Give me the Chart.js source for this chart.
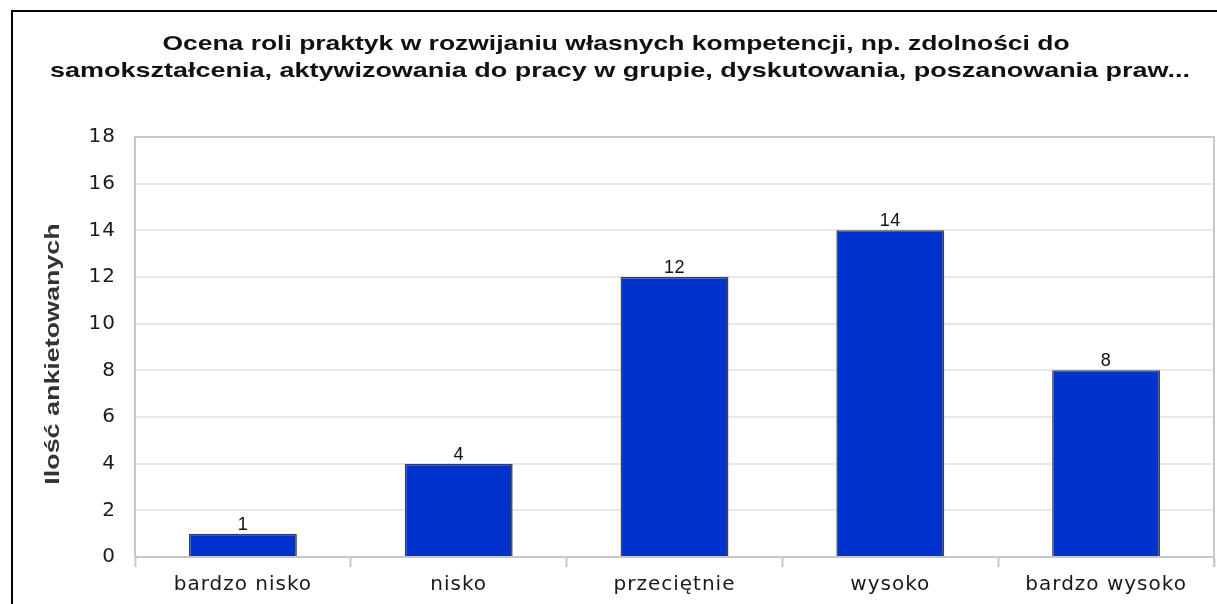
<!DOCTYPE html>
<html>
<head>
<meta charset="utf-8">
<script src="https://cdn.jsdelivr.net/npm/chart.js@4"></script>
<style>
  html, body { margin: 0; padding: 0; background: #fff; }
  #wrap { width: 1217px; height: 604px; position: relative; }
</style>
</head>
<body>
<div id="wrap"><canvas id="chart"></canvas></div>
<script>
// --- data ---
const titleLines = [
  'Ocena roli praktyk w rozwijaniu własnych kompetencji, np. zdolności do',
  'samokształcenia, aktywizowania do pracy w grupie, dyskutowania, poszanowania praw...'
];
const categories = ['bardzo nisko', 'nisko', 'przeciętnie', 'wysoko', 'bardzo wysoko'];
const counts = [1, 4, 12, 14, 8];
const yTicks = [0, 2, 4, 6, 8, 10, 12, 14, 16, 18];
const yTitle = 'Ilość ankietowanych';

const TICK_SPACING = '1px';

// the old chart's fonts are wide; tick labels get a little letter spacing
const spacingPlugin = {
  id: 'spacing',
  beforeLayout(chart) { chart.ctx.letterSpacing = TICK_SPACING; },
  beforeDraw(chart) { chart.ctx.letterSpacing = TICK_SPACING; },
};

// draws text stretched along its run, like the wide bold face of the original
function wideText(ctx, text, x, y, stretch) {
  ctx.save();
  ctx.translate(x, y);
  ctx.scale(stretch, 1);
  ctx.fillText(text, 0, 0);
  ctx.restore();
}

// frame, title and y-axis title
const decorPlugin = {
  id: 'decor',
  beforeDraw(chart) {
    const ctx = chart.ctx;
    ctx.save();
    ctx.fillStyle = '#000';
    ctx.fillRect(11, 10, chart.width - 11, 2);
    ctx.fillRect(11, 10, 2, chart.height - 10);

    ctx.fillStyle = '#111';
    ctx.font = 'bold 21px "Liberation Sans", Arial, sans-serif';
    ctx.letterSpacing = '0px';
    ctx.textAlign = 'center';
    ctx.textBaseline = 'alphabetic';
    wideText(ctx, titleLines[0], 616, 50, 1.26);
    wideText(ctx, titleLines[1], 620, 77, 1.285);

    ctx.fillStyle = '#333';
    ctx.translate(53, 354);
    ctx.rotate(-Math.PI / 2);
    ctx.textBaseline = 'middle';
    wideText(ctx, yTitle, 0, 0, 1.28);
    ctx.restore();
  },
  afterDraw(chart) {
    const a = chart.chartArea;
    const ctx = chart.ctx;
    ctx.save();
    ctx.strokeStyle = '#c8c8c8';
    ctx.lineWidth = 2;
    ctx.beginPath();
    ctx.moveTo(a.left, a.top);
    ctx.lineTo(a.right, a.top);
    ctx.lineTo(a.right, a.bottom + 10);
    ctx.stroke();
    ctx.restore();
  }
};

const valueLabels = {
  id: 'valueLabels',
  afterDatasetsDraw(chart) {
    const ctx = chart.ctx;
    const meta = chart.getDatasetMeta(0);
    ctx.save();
    ctx.font = '18px "Liberation Sans", Arial, sans-serif';
    ctx.letterSpacing = '0.5px';
    ctx.fillStyle = '#111';
    ctx.textAlign = 'center';
    ctx.textBaseline = 'alphabetic';
    meta.data.forEach((bar, i) => {
      ctx.fillText(String(counts[i]), bar.x, bar.y - 4);
    });
    ctx.restore();
  }
};

new Chart(document.getElementById('chart'), {
  type: 'bar',
  data: {
    labels: categories,
    datasets: [{
      data: counts,
      backgroundColor: '#0033cc',
      borderColor: '#404040',
      borderWidth: 1.5,
      barPercentage: 0.5,
      categoryPercentage: 1.0,
    }]
  },
  options: {
    responsive: true,
    maintainAspectRatio: false,
    animation: false,
    layout: { padding: { top: 137, right: 3, bottom: 0, left: 40 } },
    plugins: {
      legend: { display: false },
      tooltip: { enabled: false },
      title: { display: false },
    },
    scales: {
      x: {
        offset: true,
        grid: { offset: true, drawOnChartArea: false, color: '#c8c8c8', tickLength: 10, tickWidth: 2 },
        border: { color: '#c8c8c8', width: 2 },
        ticks: { color: '#1a1a1a', font: { family: '"DejaVu Sans"', size: 20 }, padding: 6 },
        afterFit(scale) { scale.height = 47; },
      },
      y: {
        min: 0,
        max: 18,
        afterBuildTicks(scale) { scale.ticks = yTicks.map(v => ({ value: v })); },
        grid: { color: '#e8e8e8', lineWidth: 2, drawTicks: false },
        border: { color: '#c8c8c8', width: 2 },
        ticks: { color: '#1a1a1a', font: { family: '"DejaVu Sans"', size: 20 }, padding: 19 },
        afterFit(scale) { scale.width = 95; },
      }
    }
  },
  plugins: [spacingPlugin, decorPlugin, valueLabels]
});
</script>
</body>
</html>
